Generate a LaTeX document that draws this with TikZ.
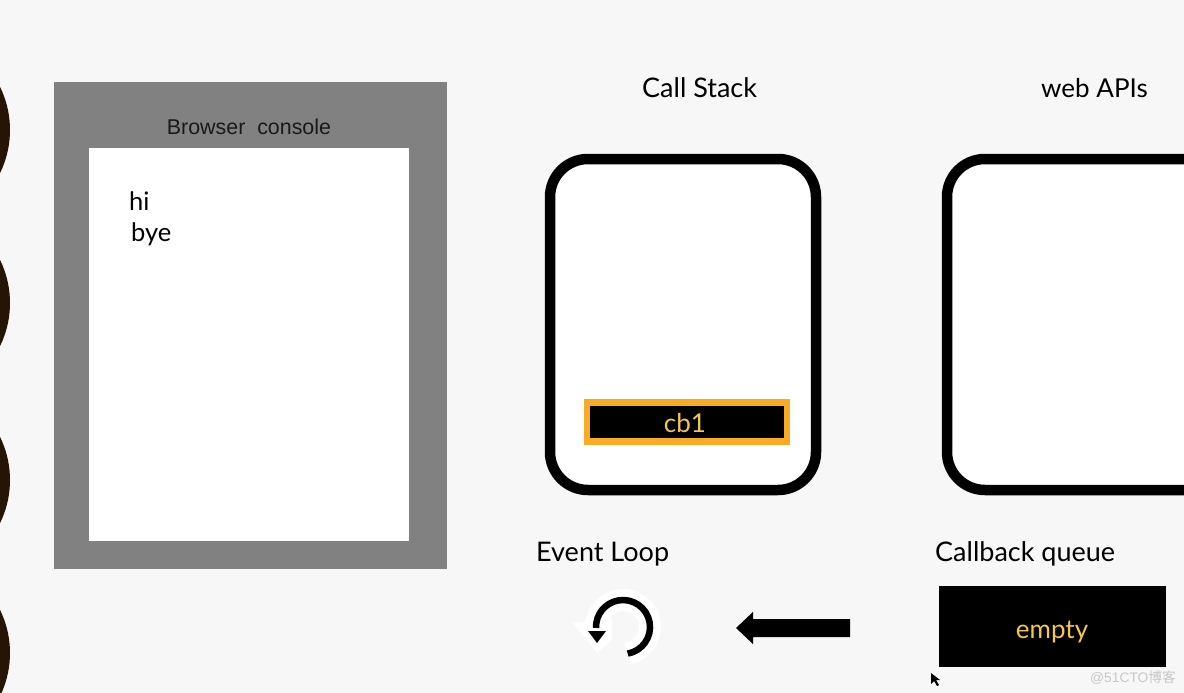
\documentclass[tikz,border=0pt]{standalone}
\usepackage{fontspec}
\setmainfont{Lato}
\newfontfamily\helv{Liberation Sans}
\newfontfamily\cjk{Noto Sans CJK SC}
\definecolor{bgc}{HTML}{F7F7F7}
\definecolor{consolegrey}{HTML}{828182}
\definecolor{amberline}{HTML}{F9AB25}
\definecolor{amberink}{HTML}{F4C64E}
\definecolor{darkbrown}{HTML}{241505}
\tikzset{
  x=1pt,y=-1pt,
  title/.style={inner sep=0pt,anchor=base west,font=\fontsize{27}{27}\selectfont,text=black},
  panel/.style={draw=black,line width=10.5pt,fill=white,rounded corners=38pt},
  sidedisc/.style={fill=darkbrown,draw=none},
}
\begin{document}
\begin{tikzpicture}
\useasboundingbox (0,0) rectangle (1184,693);
\begin{scope}
\clip (0,0) rectangle (1184,693);
\fill[bgc] (0,0) rectangle (1184,693);
\foreach \yy in {130,303,480,653} \fill[sidedisc] (-88,\yy) circle (98);
% console
\node[fill=consolegrey,minimum width=393pt,minimum height=487pt,inner sep=0pt,anchor=north west] (console) at (53.5,81.5) {};
\node[fill=white,minimum width=320pt,minimum height=393pt,inner sep=0pt,anchor=north west] (screen) at (89,148) {};
\node[inner sep=0pt,anchor=base,font=\helv\fontsize{21.4}{21.4}\selectfont,text=black!90] (ctitle) at (249,134) {Browser\ \ console};
\node[title,font=\fontsize{25.5}{25.5}\selectfont] (hi) at (129,210) {hi};
\node[title,font=\fontsize{25.5}{25.5}\selectfont] (bye) at (131,241) {bye};
% panels
\node[title] (cs) at (642,98) {Call Stack};
\node[title,font=\fontsize{26}{26}\selectfont] (wa) at (1041,98) {web APIs};
\draw[panel] (550,159) rectangle (816,490);
\draw[panel] (947,159) rectangle (1230,490);
\node[fill=black,draw=amberline,line width=6.5pt,minimum width=200pt,minimum height=39pt,inner sep=0pt] (cb) at (687,422) {};
\node[inner sep=0pt,text=amberink,font=\fontsize{26}{26}\selectfont] (cbtext) at (685,423) {cb1};
% bottom
\node[title] (el) at (536,561) {Event Loop};
\node[title] (cq) at (935,561) {Callback queue};
\node[fill=black,minimum width=227pt,minimum height=81pt,inner sep=0pt,anchor=north west] (queue) at (939,586) {};
\node[inner sep=0pt,anchor=base,text=amberink,font=\fontsize{26}{26}\selectfont] (emptytext) at (1052,638) {empty};
% loop icon
\draw[white,line width=22pt] (627.7,653.6) arc[start angle=80,delta angle=-262,radius=27];
\fill[white] (573,623) -- (612,618) -- (612,640) -- (597,653) -- cycle;
\draw[black,line width=6.5pt] (627.7,653.6) arc[start angle=80,delta angle=-262,radius=27];
\fill[black] (588,631) -- (606,631) -- (597,643) -- cycle;
% arrow
\coordinate (arrowtail) at (850,628);
\coordinate (arrowtip) at (736,628);
\fill[black] (arrowtail) ++(0,-9) -- (753,619) -- (753,612) -- (arrowtip) -- (753,644) -- (753,637) -- (850,637) -- cycle;
% cursor
\fill[black] (931,673) -- (931,684) -- (934,681) -- (937,686) -- (939,685) -- (936,680) -- (940,680) -- cycle;
\node[inner sep=0pt,anchor=base west,text=black!22,font=\helv\fontsize{13.8}{13.8}\selectfont] (wm) at (1090,682) {@51CTO{\cjk 博客}};
\end{scope}
\end{tikzpicture}
\end{document}
